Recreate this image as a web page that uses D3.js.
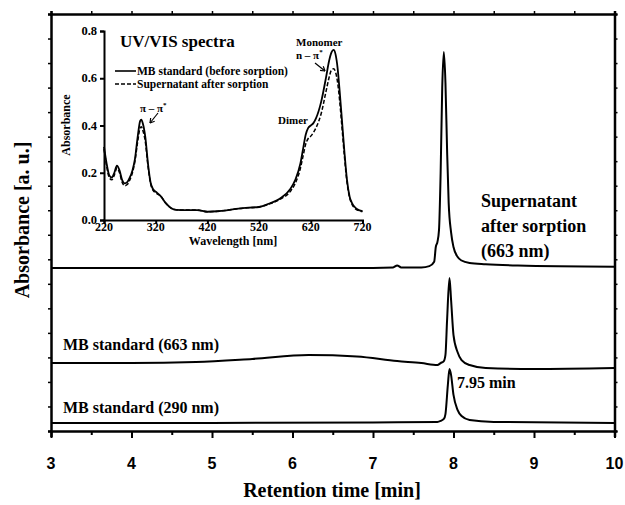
<!DOCTYPE html>
<html><head><meta charset="utf-8">
<script src="https://cdn.jsdelivr.net/npm/d3@7"></script>
<style>body{margin:0;background:#fff}svg{display:block}</style>
</head><body>
<svg id="c" width="625" height="505"></svg>
<script>
// ---- Main chromatogram data (retention time [min], offset absorbance [a.u.]) ----
const timeTicks = [3,4,5,6,7,8,9,10];
const supT = [3.0,4.0,5.0,6.0,7.0,7.25,7.3,7.35,7.6,7.7,7.76,7.78,7.80,7.82,7.84,7.86,7.88,7.90,7.92,7.94,7.97,8.0,8.05,8.1,8.2,8.4,8.8,10.0];
const supA = [6.65,6.65,6.65,6.65,6.65,6.67,6.75,6.67,6.67,6.72,6.9,7.5,7.7,8.2,10.5,14.0,15.45,14.2,11.5,9.3,8.1,7.5,7.1,6.95,6.85,6.8,6.75,6.7];
const mb663T = [3.0,4.0,4.8,5.5,6.2,6.8,7.3,7.6,7.8,7.84,7.88,7.90,7.92,7.95,7.97,8.0,8.05,8.1,8.2,8.4,9.0,10.0];
const mb663A = [2.77,2.77,2.81,2.94,3.10,3.04,2.85,2.77,2.69,2.77,2.85,3.1,4.5,6.24,5.34,3.91,3.22,2.89,2.69,2.57,2.53,2.57];
const mb290T = [3.0,5.0,7.0,7.8,7.84,7.88,7.90,7.93,7.95,7.97,8.0,8.05,8.1,8.2,8.5,10.0];
const mb290A = [0.33,0.33,0.35,0.37,0.41,0.49,0.69,1.88,2.53,2.28,1.47,0.86,0.61,0.45,0.37,0.33];

// ---- Inset UV/VIS spectra data ----
const wl = [220,225,230,235,240,245,250,255,260,265,270,275,280,285,290,292,295,300,305,310,315,320,330,340,350,360,380,400,420,440,460,480,500,520,540,560,580,590,600,605,610,615,620,625,630,640,650,655,660,664,668,672,676,680,685,690,695,700,705,710,720];
const absStd = [0.31,0.24,0.19,0.18,0.20,0.23,0.21,0.17,0.155,0.16,0.18,0.21,0.26,0.35,0.42,0.425,0.41,0.35,0.24,0.16,0.13,0.12,0.10,0.07,0.05,0.043,0.042,0.042,0.035,0.037,0.042,0.048,0.052,0.055,0.07,0.09,0.13,0.17,0.24,0.30,0.36,0.39,0.40,0.41,0.43,0.50,0.61,0.67,0.71,0.72,0.70,0.64,0.54,0.43,0.29,0.17,0.10,0.07,0.055,0.045,0.038];
const absSup = [0.30,0.23,0.18,0.17,0.19,0.22,0.20,0.16,0.145,0.15,0.17,0.20,0.25,0.33,0.39,0.395,0.38,0.33,0.23,0.155,0.125,0.115,0.10,0.07,0.05,0.043,0.042,0.042,0.035,0.037,0.042,0.048,0.052,0.055,0.068,0.087,0.12,0.155,0.22,0.27,0.32,0.345,0.355,0.37,0.39,0.45,0.55,0.60,0.635,0.64,0.625,0.58,0.50,0.40,0.27,0.16,0.095,0.065,0.05,0.042,0.036];
const wlTicks = [220,320,420,520,620,720];
const absTicks = [0.0,0.2,0.4,0.6,0.8];

const svg = d3.select("#c");
const serif = "'Liberation Serif','Times New Roman',serif";
const sans = "'Liberation Sans',Arial,sans-serif";

// ---- main scales ----
const x = d3.scaleLinear().domain([3,10]).range([51,614.5]);
const y = d3.scaleLinear().domain([0,17]).range([431,14]);

const g = svg.append("g");
const bottomAx = g.append("g").attr("transform","translate(0,431)")
  .call(d3.axisBottom(x).tickValues(d3.range(3,10.01,0.5)).tickSize(6).tickFormat(""));
const topAx = g.append("g").attr("transform","translate(0,14)")
  .call(d3.axisTop(x).tickValues(d3.range(3,10.01,0.5)).tickSize(3).tickFormat(""));
const leftAx = g.append("g").attr("transform","translate(51,0)")
  .call(d3.axisLeft(y).tickValues(d3.range(0,17.01,1)).tickSize(3).tickFormat(""));
const rightAx = g.append("g").attr("transform","translate(614.5,0)")
  .call(d3.axisRight(y).tickValues(d3.range(0,17.01,1)).tickSize(3).tickFormat(""));
[bottomAx,topAx,leftAx,rightAx].forEach(a=>{
  a.select(".domain").attr("stroke","#000").attr("stroke-width",2.5);
  a.selectAll(".tick line").attr("stroke","#000").attr("stroke-width",1.5);
});
bottomAx.selectAll(".tick line").attr("stroke-width",2).attr("y2",d=>Math.abs(d-Math.round(d))<1e-6?7:4);
timeTicks.forEach(t=>g.append("text").attr("x",x(t)).attr("y",469).attr("text-anchor","middle")
  .attr("font-family",sans).attr("font-weight","bold").attr("font-size",16).text(t));

const line = d3.line().x(d=>x(d[0])).y(d=>y(d[1])).curve(d3.curveMonotoneX);
[[supT,supA],[mb663T,mb663A],[mb290T,mb290A]].forEach(([t,a])=>{
  g.append("path").attr("d",line(d3.zip(t,a))).attr("fill","none").attr("stroke","#000").attr("stroke-width",2);
});

const lab = (txt,xx,yy,fs,anchor)=>g.append("text").attr("x",xx).attr("y",yy).attr("font-family",serif)
  .attr("font-weight","bold").attr("font-size",fs).attr("text-anchor",anchor||"start").text(txt);
lab("Supernatant",481,207,18);
lab("after sorption",481,232,18);
lab("(663 nm)",481,257,18);
lab("MB standard (663 nm)",63,350,16);
lab("MB standard (290 nm)",63,413,16);
lab("7.95 min",457,388,16);
lab("Retention time [min]",332,497,20,"middle");
g.append("text").attr("transform","translate(29,220) rotate(-90)").attr("text-anchor","middle")
  .attr("font-family",serif).attr("font-weight","bold").attr("font-size",20).text("Absorbance [a. u.]");

// ---- inset ----
const xi = d3.scaleLinear().domain([220,720]).range([104,362.5]);
const yi = d3.scaleLinear().domain([0,0.8]).range([220,31]);
const ig = svg.append("g");
const ib = ig.append("g").attr("transform","translate(0,220)")
  .call(d3.axisBottom(xi).tickValues(wlTicks).tickSize(4).tickFormat(""));
const il = ig.append("g").attr("transform","translate(104,0)")
  .call(d3.axisLeft(yi).tickValues(absTicks).tickSize(4).tickFormat(""));
[ib,il].forEach(a=>{a.select(".domain").attr("stroke","#000").attr("stroke-width",2);a.selectAll(".tick line").attr("stroke","#000").attr("stroke-width",2);});
wlTicks.forEach(w=>ig.append("text").attr("x",xi(w)).attr("y",231).attr("text-anchor","middle")
  .attr("font-family",serif).attr("font-weight","bold").attr("font-size",12).text(w));
absTicks.forEach(v=>ig.append("text").attr("x",97).attr("y",yi(v)+4).attr("text-anchor","end")
  .attr("font-family",serif).attr("font-weight","bold").attr("font-size",12.5).text(v.toFixed(1)));
ig.append("text").attr("x",233).attr("y",245).attr("text-anchor","middle").attr("font-family",serif)
  .attr("font-weight","bold").attr("font-size",12).text("Wavelength [nm]");
ig.append("text").attr("transform","translate(70,125) rotate(-90)").attr("text-anchor","middle")
  .attr("font-family",serif).attr("font-weight","bold").attr("font-size",12).text("Absorbance");

const li = d3.line().x(d=>xi(d[0])).y(d=>yi(d[1])).curve(d3.curveMonotoneX);
ig.append("path").attr("d",li(d3.zip(wl,absStd))).attr("fill","none").attr("stroke","#000").attr("stroke-width",1.8);
ig.append("path").attr("d",li(d3.zip(wl,absSup))).attr("fill","none").attr("stroke","#000").attr("stroke-width",1.5).attr("stroke-dasharray","4,2");

ig.append("text").attr("x",120).attr("y",47).attr("font-family",serif).attr("font-weight","bold").attr("font-size",17).text("UV/VIS spectra");
ig.append("line").attr("x1",115).attr("x2",136).attr("y1",71).attr("y2",71).attr("stroke","#000").attr("stroke-width",1.6);
ig.append("line").attr("x1",115).attr("x2",136).attr("y1",84).attr("y2",84).attr("stroke","#000").attr("stroke-width",1.5).attr("stroke-dasharray","4,2");
ig.append("text").attr("x",137).attr("y",75).attr("font-family",serif).attr("font-weight","bold").attr("font-size",11.5).text("MB standard (before sorption)");
ig.append("text").attr("x",137).attr("y",88).attr("font-family",serif).attr("font-weight","bold").attr("font-size",11.5).text("Supernatant after sorption");
const pp = ig.append("text").attr("x",140).attr("y",112).attr("font-family",serif).attr("font-weight","bold").attr("font-size",11);
pp.append("tspan").text("π – π");
pp.append("tspan").attr("font-size",7).attr("dy",-5).text("*");
ig.append("text").attr("x",278).attr("y",124).attr("font-family",serif).attr("font-weight","bold").attr("font-size",11).text("Dimer");
ig.append("text").attr("x",296).attr("y",46).attr("font-family",serif).attr("font-weight","bold").attr("font-size",11).text("Monomer");
const np = ig.append("text").attr("x",296).attr("y",59).attr("font-family",serif).attr("font-weight","bold").attr("font-size",11);
np.append("tspan").text("n – π");
np.append("tspan").attr("font-size",7).attr("dy",-5).text("*");
function arrow(x1,y1,x2,y2){
  ig.append("line").attr("x1",x1).attr("y1",y1).attr("x2",x2).attr("y2",y2).attr("stroke","#000").attr("stroke-width",1.2);
  const a = Math.atan2(y2-y1,x2-x1), L=5;
  [a+2.6,a-2.6].forEach(b=>ig.append("line").attr("x1",x2).attr("y1",y2)
    .attr("x2",x2+L*Math.cos(b)).attr("y2",y2+L*Math.sin(b)).attr("stroke","#000").attr("stroke-width",1.2));
}
arrow(158,113,150,123);
arrow(315,63,325,71);
</script>
</body></html>
